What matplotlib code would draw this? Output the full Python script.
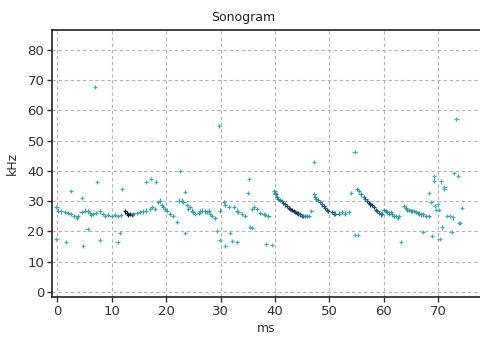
import matplotlib.pyplot as plt
from matplotlib.colors import LinearSegmentedColormap

# Sonogram points: time (ms), frequency (kHz), level (0 light .. 1 dark)
time_ms = [
    # band 0-22 ms
    -0.1, 0.2, 0.8, 1.4, 2.0, 2.6, 3.2, 3.6, 3.9, 4.5, 5.1, 5.7, 6.0, 6.3, 6.6, 7.2, 7.9, 8.5, 8.8,
    9.4, 10.0, 10.6, 11.2, 11.8, 12.5, 12.8, 13.1, 13.4, 13.7, 14.0, 14.6, 15.2, 15.8, 16.4, 17.1,
    17.4, 18.0, 18.6, 18.9, 19.2, 19.5, 19.8, 20.1, 20.7, 21.3, 22.0,
    # band 22-29 ms
    22.3, 22.9, 23.2, 23.8, 24.1, 24.4, 24.7, 25.0, 25.3, 26.0, 26.3, 26.6, 27.2, 27.5, 27.8, 28.1,
    28.4, 29.0,
    # band 30-39 ms
    29.9, 30.6, 30.9, 31.5, 32.4, 33.0, 33.3, 33.9, 34.5, 35.8, 36.1, 36.7, 37.3, 37.9, 38.2, 38.8,
    # sweep 1
    39.9, 40.0, 40.1, 40.3, 40.6, 40.9, 41.2, 41.5, 41.8, 42.2, 42.5, 42.8, 43.1, 43.4, 43.7, 44.0,
    44.3, 44.6, 44.9, 45.2, 45.5, 45.8, 46.2, 46.6,
    # sweep 2
    47.1, 47.3, 47.5, 47.9, 48.3, 48.6, 48.9, 49.2, 49.5, 49.8, 50.5, 50.8, 51.1, 51.7, 52.3, 52.9,
    53.5,
    # sweep 3
    55.1, 55.4, 55.7, 56.3, 56.6, 56.9, 57.2, 57.5, 57.8, 58.2, 58.5, 58.8, 59.1, 59.4, 59.7, 60.0,
    60.3, 60.6, 60.9, 61.2, 61.5, 61.8, 62.2, 62.5, 62.8,
    # sweep 4
    63.7, 64.0, 64.3, 64.6, 64.9, 65.2, 65.5, 65.8, 66.2, 66.5, 66.8, 67.1, 67.7, 68.3,
    # scattered above the band
    2.6, 4.6, 7.3, 12.0, 16.3, 17.2, 18.1, 22.6, 23.5, 35.2, 35.0, 7.0, 29.8, 47.2, 54.6, 54.0,
    68.3, 68.7, 69.2, 69.2, 70.5, 71.1, 71.1, 72.9, 73.6, 73.3, 69.3, 69.6, 69.9, 70.1, 71.5, 72.1,
    72.7, 73.8, 74.3,
    # scattered below the band
    -0.1, 1.65, 4.8, 5.6, 7.9, 11.1, 11.6, 23.5, 29.3, 29.9, 30.8, 31.7, 32.1, 33.0, 35.4, 35.7,
    38.3, 39.5, 54.7, 55.3, 63.1, 67.2, 68.8, 70.2, 70.6, 72.4, 73.9,
]
freq_khz = [
    28.0, 26.9, 26.6, 26.3, 26.1, 25.8, 25.2, 24.4, 25.0, 26.3, 26.9, 26.6, 26.1, 25.4, 25.8, 26.1,
    26.6, 25.8, 25.2, 25.4, 25.2, 25.4, 25.2, 25.4, 26.6, 26.1, 25.4, 25.7, 25.4, 25.7, 26.1, 26.3,
    26.6, 26.9, 27.4, 28.0, 27.4, 29.7, 30.2, 28.6, 28.0, 27.4, 26.9, 25.8, 25.0, 23.2,
    30.2, 30.2, 29.7, 28.6, 27.4, 28.0, 26.9, 26.3, 25.8, 26.1, 26.6, 26.9, 26.6, 26.3, 26.9, 25.8,
    25.0, 24.3,
    26.9, 29.7, 28.6, 28.0, 28.0, 26.9, 26.3, 25.8, 25.2, 27.4, 28.0, 27.4, 26.1, 25.8, 25.4, 25.2,
    33.3, 32.8, 32.2, 31.4, 30.8, 30.3, 30.0, 29.4, 28.9, 28.3, 27.8, 27.4, 27.2, 26.7, 26.3, 26.1,
    25.9, 25.6, 25.2, 25.2, 25.0, 25.2, 25.2, 26.7,
    32.2, 31.4, 30.8, 30.3, 29.7, 28.9, 28.3, 27.8, 27.2, 26.7, 26.3, 25.9, 25.9, 25.9, 26.3, 25.9,
    26.3,
    34.1, 33.3, 32.2, 31.4, 30.6, 30.0, 29.4, 28.9, 28.6, 28.1, 27.2, 26.7, 26.1, 25.6, 25.9, 27.2,
    26.7, 26.3, 25.9, 26.3, 25.6, 25.2, 25.0, 24.4, 25.2,
    28.3, 27.8, 27.2, 27.0, 26.7, 26.7, 26.7, 26.3, 26.1, 25.9, 25.6, 25.6, 25.2, 25.0,
    33.4, 31.1, 36.4, 34.0, 36.3, 37.3, 36.3, 39.9, 33.0, 37.3, 32.7, 67.8, 54.8, 42.9, 46.3, 32.8,
    32.8, 29.8, 38.4, 36.8, 36.5, 34.8, 33.9, 39.4, 38.4, 57.0, 28.3, 27.2, 28.9, 27.2, 25.2, 25.0,
    24.6, 22.8, 27.8,
    17.4, 16.6, 15.3, 20.8, 17.2, 16.5, 19.6, 19.6, 20.2, 17.2, 15.3, 19.6, 16.9, 16.6, 21.5, 21.2,
    15.8, 15.5, 18.8, 18.8, 16.6, 19.7, 18.6, 17.4, 21.3, 19.7, 22.8,
]
level = (
    [0.35] * 24 + [1.0, 0.95, 0.9, 0.85, 0.7, 0.5] + [0.35] * 16
    + [0.35] * 18
    + [0.35] * 16
    + [0.4, 0.4, 0.45, 0.45, 0.5, 0.5, 0.55, 0.6, 0.65, 0.7, 0.75, 0.8, 0.8, 0.8, 0.75, 0.75,
       0.7, 0.65, 0.6, 0.55, 0.5, 0.45, 0.4, 0.35]
    + [0.35, 0.4, 0.4, 0.45, 0.5, 0.55, 0.6, 0.65, 0.65, 0.65, 0.6, 0.55, 0.5, 0.45, 0.4, 0.4, 0.35]
    + [0.4, 0.4, 0.45, 0.5, 0.55, 0.6, 0.7, 0.75, 0.75, 0.7, 0.65, 0.6, 0.55, 0.5, 0.5, 0.45,
       0.45, 0.45, 0.4, 0.4, 0.4, 0.4, 0.35, 0.35, 0.35]
    + [0.4] * 14
    + [0.3] * 35
    + [0.3] * 27
)

cmap = LinearSegmentedColormap.from_list(
    "sono", ["#8adcd8", "#52bab5", "#2a7f8e", "#173a5c", "#050a10"])

fig = plt.figure(figsize=(4.81, 3.38), dpi=100)
ax = fig.add_axes([52 / 481, 41 / 338, 1 - 52 / 481, 267 / 338])

ax.scatter(time_ms, freq_khz, c=level, cmap=cmap, vmin=0, vmax=1,
           marker='+', s=9, linewidths=0.9, zorder=3)

ax.set_xlim(-0.92, 77.8)
ax.set_ylim(-1.65, 86.5)
ax.set_xticks(range(0, 80, 10))
ax.set_yticks(range(0, 90, 10))
ax.grid(True, color='#b4b4b4', linestyle=(0, (3, 2.5)), linewidth=0.8, zorder=0)

for side in ['left', 'top', 'bottom']:
    ax.spines[side].set_color('#222222')
    ax.spines[side].set_linewidth(1.2)
ax.spines['right'].set_visible(False)

ax.tick_params(direction='out', length=3.5, width=1, color='#333333',
               labelsize=9.5, labelcolor='#333333', pad=2)
ax.set_xlabel('ms', fontsize=9, color='#333333', labelpad=3)
ax.set_ylabel('kHz', fontsize=9, color='#333333', labelpad=6)
fig.text(243 / 481, 1 - 17 / 338, 'Sonogram', ha='center', va='center',
         fontsize=9, color='#222222')

fig.savefig('out.png', dpi=100)
